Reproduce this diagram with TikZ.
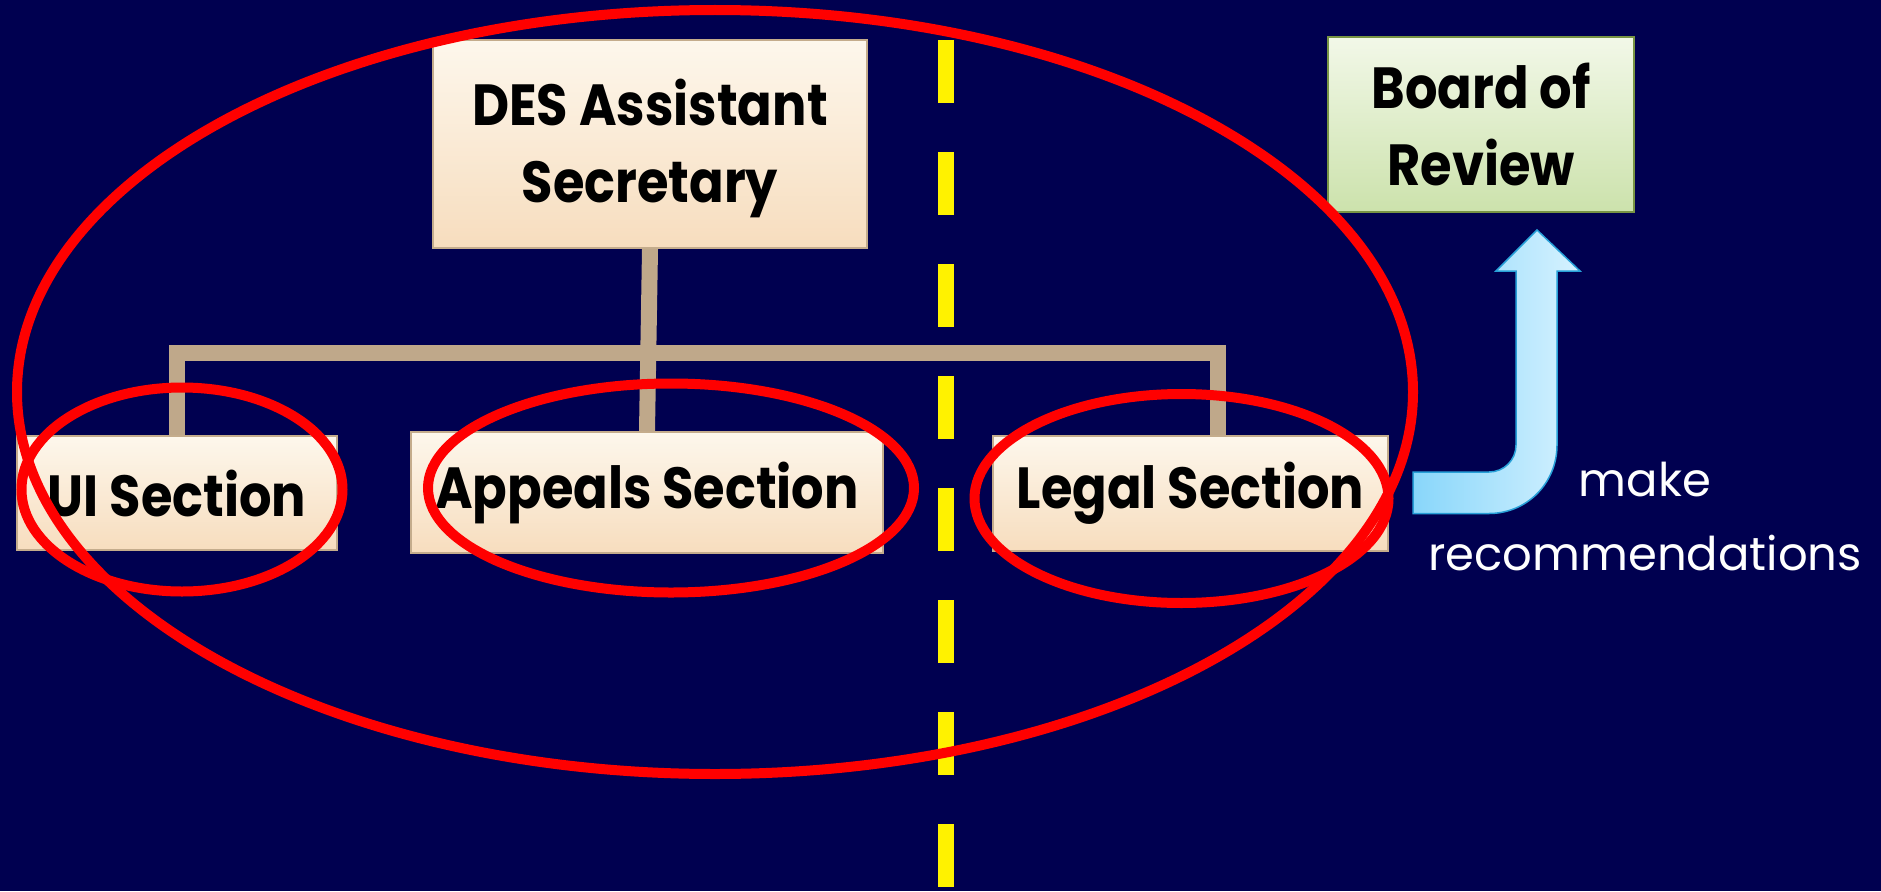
\documentclass[tikz,border=0pt]{standalone}
\usepackage{fontspec}
\setmainfont{Poppins}[BoldFeatures={FakeStretch=0.88}]
\definecolor{bgnavy}{RGB}{0,0,80}
\definecolor{boxtop}{RGB}{253,247,236}
\definecolor{boxbot}{RGB}{247,221,190}
\definecolor{boxline}{RGB}{196,172,140}
\definecolor{conn}{RGB}{191,168,138}
\definecolor{greentop}{RGB}{242,248,232}
\definecolor{greenbot}{RGB}{204,226,172}
\definecolor{greenline}{RGB}{120,148,68}
\definecolor{arrowleft}{RGB}{136,214,250}
\definecolor{arrowright}{RGB}{214,242,255}
\definecolor{arrowline}{RGB}{40,160,216}
\tikzset{
  secbox/.style={draw=boxline, line width=2pt, top color=boxtop, bottom color=boxbot,
    inner sep=0pt, align=center, text=black,
    font=\fontsize{58}{77}\selectfont\bfseries},
  boardbox/.style={secbox, draw=greenline, top color=greentop, bottom color=greenbot},
  link/.style={draw=conn, line width=16pt, line join=miter},
  ring/.style={draw=red, line width=10pt},
  lane/.style={draw=yellow, line width=16pt, dash pattern=on 63pt off 49pt},
  uarrow/.style={draw=arrowline, line width=1.5pt, left color=arrowleft, right color=arrowright},
  note/.style={text=white, align=center, font=\fontsize{46.5}{74}\selectfont}
}
\begin{document}
\begin{tikzpicture}[x=1pt,y=-1pt]
\useasboundingbox (0,0) rectangle (1881,891);
\fill[bgnavy] (0,0) rectangle (1881,891);
% boxes
\node[secbox, minimum width=434pt, minimum height=208pt] (des) at (650,144) {\rule{0pt}{56pt}DES Assistant\\Secretary};
\node[secbox, minimum width=320pt, minimum height=114pt] (ui) at (177,493) {UI Section};
\node[secbox, minimum width=472pt, minimum height=121pt] (appeals) at (647,492.5) {Appeals Section};
\node[secbox, minimum width=395pt, minimum height=115pt] (legal) at (1190.5,493) {Legal Section};
\node[boardbox, minimum width=306pt, minimum height=175pt] (board) at (1481,124.5) {Board of\\Review};
% connectors
\coordinate (bar) at (0,353);
\coordinate (legaldrop) at ([xshift=27.5pt]legal.north);
\draw[link] (des.south) -- (appeals.north);
\draw[link] (ui.north) -- (ui.north |- bar) -- (legaldrop |- bar) -- (legaldrop);
% dashed divider
\draw[lane] (946,40) -- (946,891);
% recommendation arrow
\path[uarrow] (1413,472) -- (1489,472) .. controls (1504,472) and (1516,460) .. (1516,445)
  -- (1516,271) -- (1496,271) -- (1537,230) -- (1580,271) -- (1557,271) -- (1557,445)
  .. controls (1557,483) and (1527,513.5) .. (1489,513.5) -- (1413,513.5) -- cycle;
\node[note] (rec) at (1645,516) {make\\recommendations};
% red rings
\draw[ring] (715,392) ellipse [x radius=698pt, y radius=382pt];
\draw[ring] (182,489.5) ellipse [x radius=160.5pt, y radius=102pt];
\draw[ring] (671,488) ellipse [x radius=243pt, y radius=104.5pt];
\draw[ring] (1181.5,498.5) ellipse [x radius=207pt, y radius=104.5pt];
\end{tikzpicture}
\end{document}
